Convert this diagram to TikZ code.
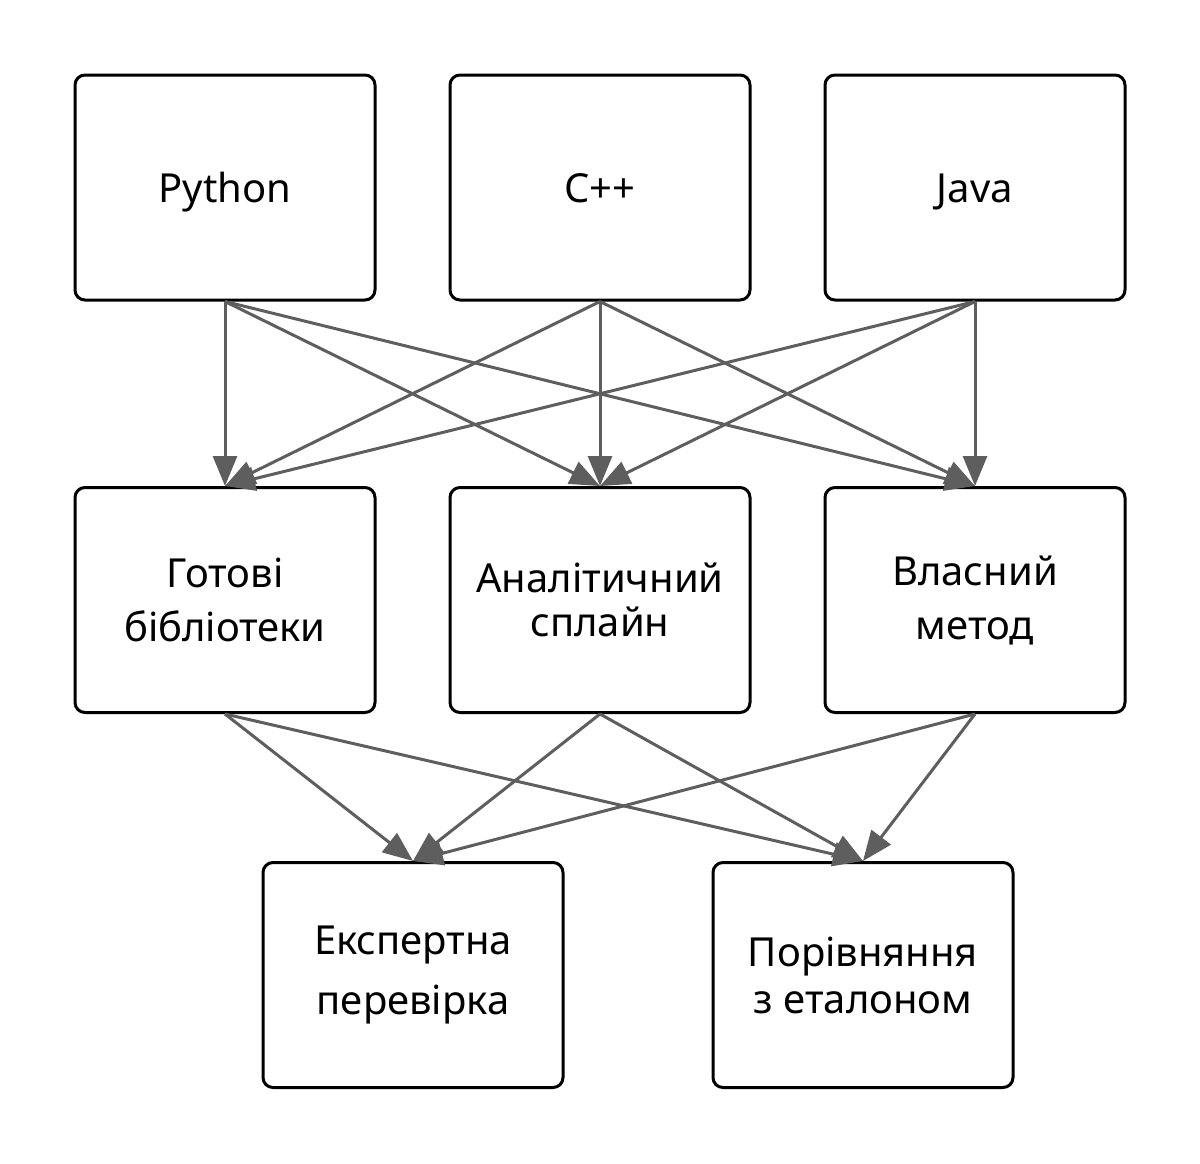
\documentclass[tikz,border=0pt]{standalone}
\usepackage{fontspec}
\setmainfont{Noto Sans}
\usepackage{xcolor}
\definecolor{arrowGray}{rgb}{0.37, 0.37, 0.37}
\usetikzlibrary{arrows.meta}

\begin{document}
\begin{tikzpicture}[x=1pt, y=-1pt,
		box/.style={draw, line width=3pt, rounded corners=10pt, minimum width=300pt, minimum height=225pt, align=center, font=\fontsize{40}{44}\selectfont},
		langbox/.style={box, text height=29pt, text depth=0pt},
		flow/.style={draw=arrowGray, line width=3pt, -{Triangle[length=30pt, width=24pt]}}]
			\useasboundingbox (0,0) rectangle (1200,1163);

			% Languages (top row)
			\node[langbox] (py) at (225,187.5) {Python};
			\node[langbox] (cpp) at (600,187.5) {C++};
			\node[langbox] (java) at (975,187.5) {Java};

			% Methods (middle row)
			\node[box] (lib) at (225,600) {Готові\\[10pt]бібліотеки};
			\node[box] (spl) at (600,600) {Аналітичний\\сплайн};
			\node[box] (own) at (975,600) {Власний\\[10pt]метод};

			% Checks (bottom row)
			\node[box] (exp) at (413,975) {Експертна\\[16pt]перевірка};
			\node[box] (etl) at (863,975) {Порівняння\\[3pt]з еталоном};

			% Languages to methods
			\foreach \a in {py,cpp,java}
			\foreach \b in {lib,spl,own}
			\draw[flow] (\a.south) -- (\b.north);

			% Methods to checks
			\foreach \a in {lib,spl,own}
			\foreach \b in {exp,etl}
			\draw[flow] (\a.south) -- (\b.north);
		\end{tikzpicture}
\end{document}
